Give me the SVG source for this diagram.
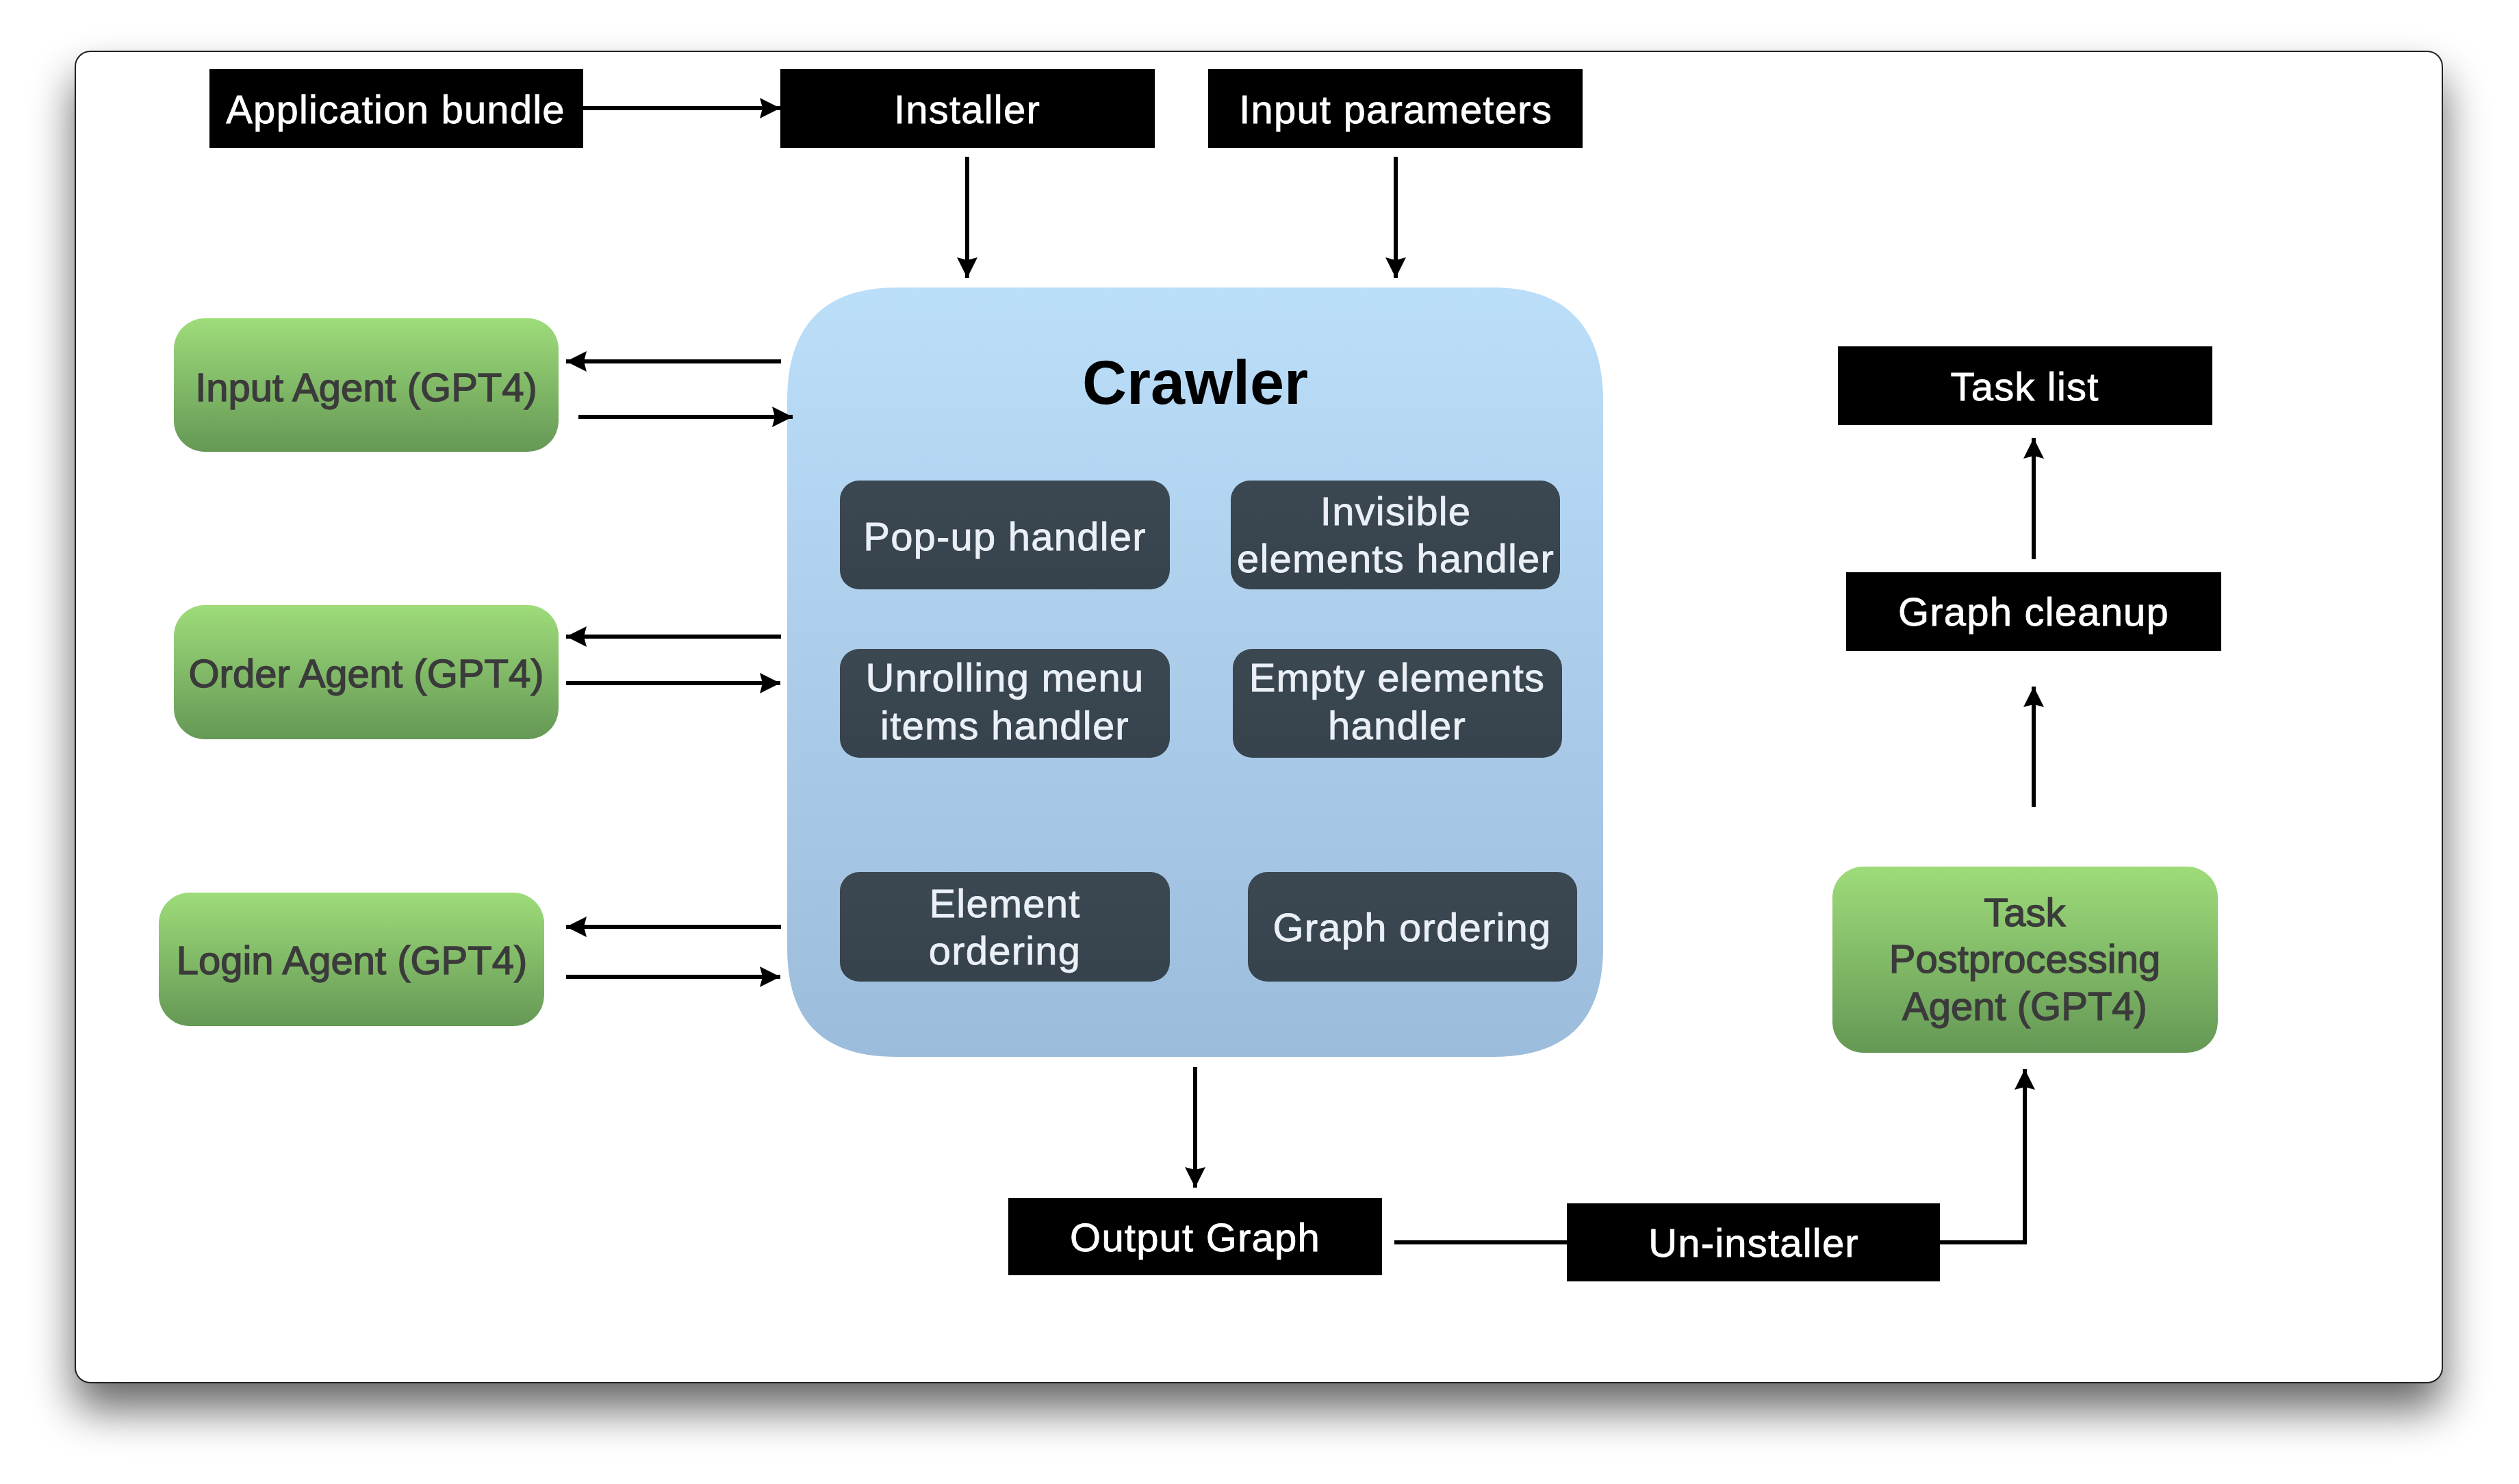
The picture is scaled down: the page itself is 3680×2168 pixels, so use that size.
<svg xmlns="http://www.w3.org/2000/svg" width="3680" height="2168" viewBox="0 0 3680 2168">
<defs>
<style>
.blk{fill:#000}
.wt{fill:#fff;stroke:#fff;stroke-width:0.8px;font-family:"Liberation Sans",Arial,Helvetica,sans-serif;font-size:58px;letter-spacing:1.2px;text-anchor:middle}
.dk{fill:url(#gDark)}
.dt{fill:#eaf0f6;stroke:#eaf0f6;stroke-width:0.8px;font-family:"Liberation Sans",Arial,Helvetica,sans-serif;font-size:58px;letter-spacing:1.2px;text-anchor:middle}
.gr{fill:url(#gGreen)}
.gt{fill:#3b3b3b;stroke:#3b3b3b;stroke-width:1.4px;font-family:"Liberation Sans",Arial,Helvetica,sans-serif;font-size:58px;text-anchor:middle}
.ln{fill:none;stroke:#000;stroke-width:6}
.ar{fill:none;stroke:#000;stroke-width:6;marker-end:url(#ah)}
</style>
<linearGradient id="gGreen" x1="0" y1="0" x2="0" y2="1">
<stop offset="0" stop-color="#9edc7a"/>
<stop offset="1" stop-color="#659855"/>
</linearGradient>
<linearGradient id="gCrawl" x1="0" y1="0" x2="0" y2="1">
<stop offset="0" stop-color="#bbdef9"/>
<stop offset="1" stop-color="#9cbcdb"/>
</linearGradient>
<linearGradient id="gDark" x1="0" y1="0" x2="0" y2="1">
<stop offset="0" stop-color="#3b4852"/>
<stop offset="1" stop-color="#36424c"/>
</linearGradient>
<filter id="shadow" x="-10%" y="-15%" width="120%" height="135%">
<feGaussianBlur in="SourceAlpha" stdDeviation="32"/>
<feOffset dx="0" dy="38" result="b"/>
<feComponentTransfer><feFuncA type="linear" slope="0.6"/></feComponentTransfer>
<feMerge><feMergeNode/><feMergeNode in="SourceGraphic"/></feMerge>
</filter>
<marker id="ah" viewBox="0 0 30 30" refX="30" refY="15" markerWidth="30" markerHeight="30" markerUnits="userSpaceOnUse" orient="auto">
<path d="M0,0 L30,15 L0,30 L4,15 z" fill="#000"/>
</marker>
</defs>
<rect width="3680" height="2168" fill="#fff"/>
<g id="card">
<rect x="110" y="75" width="3458" height="1945" rx="22" fill="#fff" stroke="#222" stroke-width="2" filter="url(#shadow)"/>
</g>
<g id="crawler">
<path d="M1310,420 L2180,420 C2290,420 2342,480 2342,585 L2342,1384 C2342,1490 2290,1544 2180,1544 L1310,1544 C1200,1544 1150,1490 1150,1384 L1150,585 C1150,480 1200,420 1310,420 Z" fill="url(#gCrawl)"/>
<text x="1746" y="590" font-family="'Liberation Sans',Arial,Helvetica,sans-serif" font-size="90" font-weight="bold" text-anchor="middle" fill="#000">Crawler</text>
</g>
<g id="app-bundle"><rect class="blk" x="306" y="101" width="546" height="115"/><text class="wt" x="578" y="180">Application bundle</text></g>
<g id="installer"><rect class="blk" x="1140" y="101" width="547" height="115"/><text class="wt" x="1413" y="180">Installer</text></g>
<g id="input-parameters"><rect class="blk" x="1765" y="101" width="547" height="115"/><text class="wt" x="2039" y="180">Input parameters</text></g>
<g id="task-list"><rect class="blk" x="2685" y="506" width="547" height="115"/><text class="wt" x="2958" y="585">Task list</text></g>
<g id="graph-cleanup"><rect class="blk" x="2697" y="836" width="548" height="115"/><text class="wt" x="2971" y="914">Graph cleanup</text></g>
<g id="output-graph"><rect class="blk" x="1473" y="1750" width="546" height="113"/><text class="wt" x="1746" y="1828">Output Graph</text></g>
<g id="un-installer"><rect class="blk" x="2289" y="1758" width="545" height="114"/><text class="wt" x="2562" y="1836">Un-installer</text></g>
<g id="input-agent"><rect class="gr" x="254" y="465" width="562" height="195" rx="45"/><text class="gt" x="535" y="586">Input Agent (GPT4)</text></g>
<g id="order-agent"><rect class="gr" x="254" y="884" width="562" height="196" rx="45"/><text class="gt" x="535" y="1004">Order Agent (GPT4)</text></g>
<g id="login-agent"><rect class="gr" x="232" y="1304" width="563" height="195" rx="45"/><text class="gt" x="514" y="1423">Login Agent (GPT4)</text></g>
<g id="task-postprocessing-agent"><rect class="gr" x="2677" y="1266" width="563" height="272" rx="45"/><text class="gt" x="2958" y="1353">Task</text><text class="gt" x="2958" y="1421">Postprocessing</text><text class="gt" x="2958" y="1490">Agent (GPT4)</text></g>
<g id="popup-handler"><rect class="dk" x="1227" y="702" width="482" height="159" rx="28"/><text class="dt" x="1468" y="804">Pop-up handler</text></g>
<g id="invisible-handler"><rect class="dk" x="1798" y="702" width="481" height="159" rx="28"/><text class="dt" x="2039" y="767">Invisible</text><text class="dt" x="2039" y="836">elements handler</text></g>
<g id="unrolling-handler"><rect class="dk" x="1227" y="948" width="482" height="159" rx="28"/><text class="dt" x="1468" y="1010">Unrolling menu</text><text class="dt" x="1468" y="1080">items handler</text></g>
<g id="empty-handler"><rect class="dk" x="1801" y="948" width="481" height="159" rx="28"/><text class="dt" x="2041" y="1010">Empty elements</text><text class="dt" x="2041" y="1080">handler</text></g>
<g id="element-ordering"><rect class="dk" x="1227" y="1274" width="482" height="160" rx="28"/><text class="dt" x="1468" y="1340">Element</text><text class="dt" x="1468" y="1409">ordering</text></g>
<g id="graph-ordering"><rect class="dk" x="1823" y="1274" width="481" height="160" rx="28"/><text class="dt" x="2063" y="1375">Graph ordering</text></g>
<g id="connectors">
<path class="ar" d="M852,158 L1140,158"/>
<path class="ar" d="M1413,229 L1413,406"/>
<path class="ar" d="M2039,229 L2039,406"/>
<path class="ar" d="M1141,528 L827,528"/>
<path class="ar" d="M845,609 L1158,609"/>
<path class="ar" d="M1141,930 L827,930"/>
<path class="ar" d="M827,998 L1140,998"/>
<path class="ar" d="M1141,1354 L827,1354"/>
<path class="ar" d="M827,1427 L1140,1427"/>
<path class="ar" d="M1746,1559 L1746,1735"/>
<path class="ln" d="M2037,1815 L2289,1815"/>
<path class="ar" d="M2834,1815 L2958,1815 L2958,1562"/>
<path class="ar" d="M2971,1179 L2971,1003"/>
<path class="ar" d="M2971,817 L2971,640"/>
</g>
</svg>
